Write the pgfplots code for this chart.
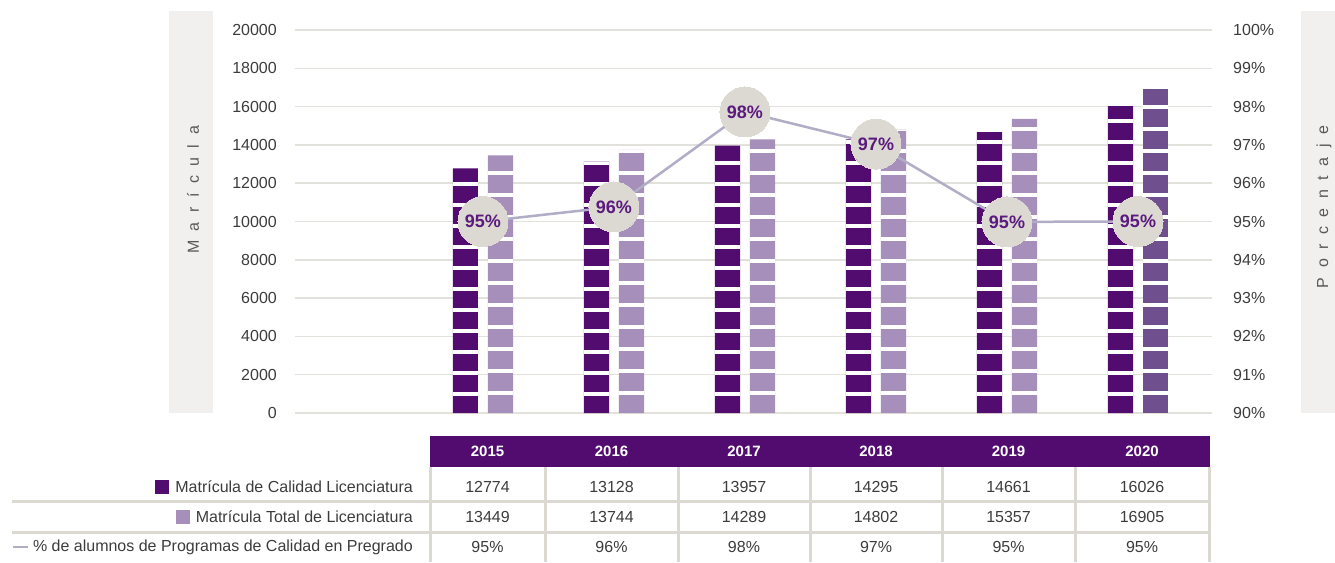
\documentclass[border=0pt]{standalone}
\usepackage{pgfplots}
\pgfplotsset{compat=1.18}
\usepackage{fontspec}
\setmainfont{Liberation Sans}
\definecolor{dark}{HTML}{520C70}
\definecolor{light}{HTML}{A690BB}
\definecolor{mid}{HTML}{6F4F8E}
\definecolor{hdr}{HTML}{520C70}
\definecolor{circ}{HTML}{DCD9D3}
\definecolor{linec}{HTML}{B2ADC6}
\definecolor{gridc}{HTML}{E3E1DC}
\definecolor{band}{HTML}{F1F0EF}
\definecolor{tline}{HTML}{DCD9D2}
\definecolor{txt}{HTML}{3C3C3C}
\definecolor{lbl}{HTML}{5B1A7E}
\newcommand{\fs}{\fontsize{16}{19}\selectfont}
\newcommand{\g}{\hspace{9.5pt}}
\pgfplotsset{
  geom/.style={at={(295pt,-413pt)}, anchor=south west, scale only axis,
    width=917pt, height=383pt, xmin=-1.435, xmax=5.565,
    axis line style={draw=none}, xtick=\empty, major tick length=0pt,
    /pgf/number format/assume math mode=true,
    yticklabel style={font=\fs, text=txt, inner sep=0pt}},
  seg/.style 2 args={path picture={
    \pgfsetfillcolor{white}%
    \foreach \k in {0,...,25}{%
      \pgfpathrectanglecorners
        {\pgfpointadd{\pgfpointanchor{path picture bounding box}{south west}}{\pgfpoint{-5pt}{#1pt+\k*#2pt}}}%
        {\pgfpointadd{\pgfpointanchor{path picture bounding box}{south east}}{\pgfpoint{5pt}{#1pt+\k*#2pt+4pt}}}%
      \pgfusepath{fill}}}}
}
\begin{document}
\begin{tikzpicture}
\path[use as bounding box] (0,0) rectangle (1335pt,-562pt);
% side bands
\fill[band] (169pt,-11pt) rectangle (213pt,-413pt);
\fill[band] (1301pt,-11pt) rectangle (1335pt,-413pt);
\node[rotate=90, text=txt!85, font=\fontsize{16}{18}\selectfont] at (193pt,-190pt) {M\g a\g r\g í\g c\g u\g l\g a};
\node[rotate=90, text=txt!85, font=\fontsize{16}{18}\selectfont] at (1324pt,-207pt) {P\g o\g r\g c\g e\g n\g t\g a\g j\g e};

\begin{axis}[geom, ymin=0, ymax=20000, ytick={0,2000,...,20000},
  ymajorgrids, grid style={gridc, line width=1.5pt},
  scaled y ticks=false,
  yticklabel style={anchor=east, xshift=-18pt},
  yticklabel={\pgfmathprintnumber[fixed,1000 sep={}]{\tick}}]
\addplot[ybar, bar width=0.191, bar shift=-0.1336, fill=dark, draw=none, seg={17}{21}]
  coordinates {(0,12774) (1,13128) (2,13957) (3,14295) (4,14661) (5,16026)};
\addplot[ybar, bar width=0.191, bar shift=0.1336, fill=light, draw=none, seg={18}{22}]
  coordinates {(0,13449) (1,13744) (2,14289) (3,14802) (4,15357)};
\addplot[ybar, bar width=0.191, bar shift=0.1336, fill=mid, draw=none, seg={18}{22}]
  coordinates {(5,16905)};
\end{axis}

\begin{axis}[geom, ymin=90, ymax=100, ytick={90,91,...,100},
  axis y line*=right,
  yticklabel style={anchor=west, xshift=21pt},
  yticklabel={\pgfmathprintnumber{\tick}\%}]
\addplot[linec, line width=2.5pt, mark=*, mark size=25pt,
  mark options={fill=circ, draw=circ, line width=0pt},
  point meta=explicit symbolic,
  nodes near coords, nodes near coords align={center},
  every node near coord/.append style={anchor=center, text=lbl, font=\fontsize{18}{20}\selectfont\bfseries}]
  coordinates {(0,95.0)[95\%] (1,95.38)[96\%] (2,97.86)[98\%] (3,97.02)[97\%] (4,94.99)[95\%] (5,95.0)[95\%]};
\end{axis}

% table
\fill[hdr] (430pt,-436pt) rectangle (1210pt,-467pt);
\foreach \x in {430,545,678,810,942,1075,1209}{
  \draw[tline, line width=3pt] (\x pt,-467pt) -- (\x pt,-562pt);}
\draw[tline, line width=3pt] (12pt,-501pt) -- (1210pt,-501pt);
\draw[tline, line width=3pt] (12pt,-532pt) -- (1210pt,-532pt);
\foreach \x/\y/\a/\b/\c in {487.5/2015/12774/13449/95,611.5/2016/13128/13744/96,744/2017/13957/14289/98,876/2018/14295/14802/97,1008.5/2019/14661/15357/95,1142/2020/16026/16905/95}{
  \node[text=white, font=\fontsize{15}{18}\selectfont\bfseries] at (\x pt,-451pt) {\y};
  \node[text=txt, font=\fs] at (\x pt,-487pt) {\a};
  \node[text=txt, font=\fs] at (\x pt,-517pt) {\b};
  \node[text=txt, font=\fs] at (\x pt,-547pt) {\c\%};
}
\node[anchor=east, inner sep=0pt, text=txt, font=\fs] (t1) at (413pt,-487pt) {Matrícula de Calidad Licenciatura};
\node[anchor=east, inner sep=0pt, text=txt, font=\fs] (t2) at (413pt,-517pt) {Matrícula Total de Licenciatura};
\node[anchor=east, inner sep=0pt, text=txt, font=\fs] (t3) at (413pt,-547pt) {\% de alumnos de Programas de Calidad en Pregrado};
\fill[dark] ([xshift=-6pt,yshift=-7pt]t1.west) rectangle ++(-14pt,14pt);
\fill[light] ([xshift=-6pt,yshift=-7pt]t2.west) rectangle ++(-14pt,14pt);
\draw[linec, line width=2.5pt] ([xshift=-5pt]t3.west) -- ++(-15pt,0);
\end{tikzpicture}
\end{document}
